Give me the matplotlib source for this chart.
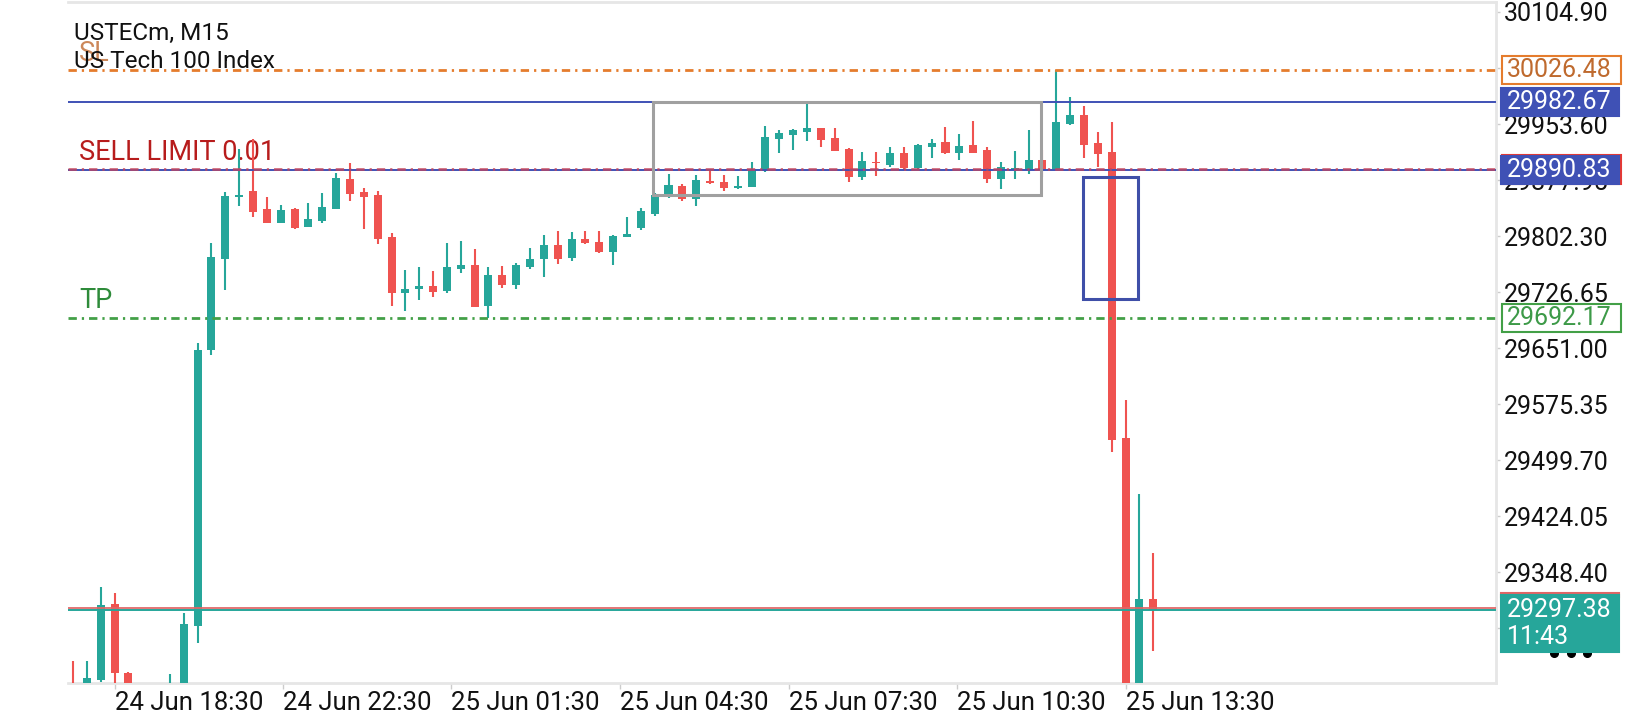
import matplotlib
matplotlib.use("Agg")
import numpy as np
import matplotlib.pyplot as plt
from matplotlib.patches import Rectangle
from matplotlib.lines import Line2D

# ---- data: USTECm M15 candles ----
opens = [29190.0, 29185.0, 29202.6, 29305.2, 29212.4, 29175.0, 29160.0, 29180.0, 29195.0, 29275.5,
         29648.3, 29771.7, 29855.4, 29863.1, 29838.8, 29820.3, 29838.8, 29814.0, 29823.0, 29839.2,
         29878.9, 29862.2, 29857.7, 29800.5, 29725.7, 29730.3, 29735.2, 29728.0, 29757.7, 29763.1,
         29708.2, 29749.6, 29736.1, 29760.8, 29770.8, 29790.2, 29773.0, 29798.3, 29793.8, 29781.1,
         29800.5, 29813.1, 29832.0, 29855.4, 29869.9, 29852.3, 29877.0, 29874.9, 29867.2, 29868.9,
         29890.1, 29933.8, 29938.7, 29942.8, 29948.2, 29934.3, 29919.8, 29881.6, 29902.7, 29898.2,
         29914.8, 29893.8, 29922.9, 29929.7, 29914.8, 29925.2, 29918.5, 29879.3, 29891.5, 29891.5,
         29905.0, 29892.4, 29953.6, 29965.8, 29927.5, 29916.2, 29529.0, 29150.0, 29311.6]
highs = [29228.2, 29228.2, 29327.8, 29319.7, 29214.0, 29190.0, 29185.0, 29210.7, 29292.7, 29657.8,
         29792.9, 29862.2, 29919.4, 29933.3, 29855.0, 29844.2, 29840.1, 29847.3, 29860.8, 29887.0,
         29901.3, 29866.8, 29863.1, 29806.0, 29756.4, 29760.8, 29755.0, 29793.3, 29795.5, 29784.8,
         29760.8, 29761.8, 29766.2, 29785.7, 29803.7, 29809.1, 29807.3, 29809.1, 29809.1, 29803.7,
         29828.4, 29840.1, 29860.4, 29885.7, 29872.6, 29884.7, 29892.4, 29884.7, 29883.8, 29902.7,
         29950.9, 29945.5, 29946.9, 29982.4, 29948.6, 29947.8, 29920.8, 29916.2, 29916.2, 29922.1,
         29922.1, 29926.2, 29933.3, 29949.6, 29940.1, 29957.7, 29922.5, 29902.3, 29917.1, 29945.5,
         29918.5, 30026.5, 29989.7, 29977.9, 29943.2, 29956.7, 29580.8, 29453.8, 29373.7]
lows = [29160.0, 29175.0, 29200.0, 29185.0, 29160.0, 29150.0, 29145.0, 29170.0, 29190.0, 29253.0,
        29641.6, 29729.4, 29843.2, 29828.4, 29819.5, 29819.5, 29812.2, 29814.0, 29820.3, 29839.2,
        29850.0, 29811.8, 29791.9, 29708.2, 29701.4, 29715.9, 29719.5, 29725.7, 29752.7, 29706.4,
        29691.9, 29732.5, 29730.7, 29757.7, 29747.3, 29764.5, 29768.9, 29791.5, 29778.9, 29763.1,
        29800.3, 29810.4, 29829.3, 29853.2, 29849.6, 29843.2, 29873.0, 29863.5, 29866.2, 29868.5,
        29889.4, 29914.8, 29918.5, 29930.6, 29922.9, 29917.1, 29875.7, 29877.9, 29883.4, 29895.9,
        29892.8, 29892.4, 29908.1, 29913.1, 29905.0, 29913.8, 29874.3, 29865.4, 29879.7, 29886.1,
        29881.6, 29891.5, 29952.3, 29908.1, 29895.1, 29510.9, 29120.0, 29130.0, 29242.1]
closes = [29170.0, 29204.8, 29303.9, 29211.6, 29175.0, 29160.0, 29180.0, 29195.0, 29278.2, 29648.3,
          29773.5, 29856.3, 29857.7, 29835.1, 29820.3, 29837.4, 29813.1, 29824.9, 29841.1, 29881.1,
          29858.6, 29855.4, 29798.3, 29725.7, 29730.7, 29735.2, 29727.1, 29760.8, 29763.1, 29706.8,
          29749.6, 29736.1, 29763.1, 29771.2, 29790.2, 29771.2, 29798.3, 29792.5, 29780.3, 29802.7,
          29805.0, 29836.1, 29857.7, 29871.2, 29851.9, 29878.0, 29874.3, 29866.7, 29869.9, 29891.5,
          29935.6, 29941.9, 29945.5, 29948.6, 29932.0, 29917.5, 29882.4, 29904.0, 29900.5, 29914.8,
          29893.8, 29925.2, 29928.3, 29914.8, 29923.9, 29914.8, 29879.3, 29895.1, 29894.8, 29905.0,
          29891.5, 29956.3, 29965.8, 29925.2, 29913.1, 29526.7, 29150.0, 29311.6, 29297.38]

time_labels = ['24 Jun 18:30', '24 Jun 22:30', '25 Jun 01:30', '25 Jun 04:30',
               '25 Jun 07:30', '25 Jun 10:30', '25 Jun 13:30']
time_label_bars = [3, 15.17, 27.33, 39.5, 51.67, 63.83, 76]

price_ticks = [30104.90, 30029.25, 29953.60, 29877.95, 29802.30, 29726.65,
               29651.00, 29575.35, 29499.70, 29424.05, 29348.40, 29272.75]

sl_price = 30026.48
tp_price = 29692.17
sell_limit_price = 29892.4
position_price = 29890.83
level_price = 29982.67
bid_price = 29297.38
ask_price = 29299.9
countdown = '11:43'

# drawn boxes: (bar_left, bar_right, price_low, price_high)
range_box = (41.9, 69.9, 29857.7, 29983.2)
drop_box = (72.9, 76.9, 29717.2, 29882.0)

TEAL = '#26a69a'
RED = '#ef5350'
BLUE = '#3f51b5'
ORANGE = '#e57c2d'
GREEN = '#43a047'
GRID = '#e6e6e6'
FONT = 'Roboto'
FS = 18

plt.rcParams['font.family'] = [FONT, 'DejaVu Sans']

W, H = 1640, 720
fig = plt.figure(figsize=(W / 100, H / 100), dpi=100)
ax = fig.add_axes([68 / W, 1 - 683 / H, (1496 - 68) / W, (683 - 2) / H])
ax.set_xlim(-0.36, 102.75)
ax.set_ylim(29198.5, 30118.4)

o = np.array(opens)
c = np.array(closes)
hi = np.array(highs)
lo = np.array(lows)
bars = np.arange(len(o))
col = np.where(c >= o, TEAL, RED)

ax.vlines(bars, lo, hi, colors=col, lw=1.5, zorder=4)
ax.bar(bars, np.maximum(np.abs(c - o), 1.8), bottom=np.minimum(o, c), width=0.58,
       color=col, linewidth=0, zorder=5)

dashdot = (0, (3, 1.8, 0.8, 1.8))
ax.axhline(sl_price, color=ORANGE, lw=2, ls=dashdot, zorder=6)
ax.axhline(level_price, color=BLUE, lw=1.4, zorder=6)
ax.axhline(position_price, color=BLUE, lw=1.4, zorder=6)
ax.axhline(sell_limit_price, color='#c4455c', lw=2, ls=dashdot, zorder=6, alpha=0.8)
ax.axhline(tp_price, color=GREEN, lw=2, ls=dashdot, zorder=6)
ax.axhline(bid_price, color=TEAL, lw=1.4, zorder=6)
ax.axhline(ask_price, color='#e06666', lw=1.4, zorder=6, alpha=0.9)

for (b0, b1, p0, p1), ec in [(range_box, '#a0a0a0'), (drop_box, '#3f4fa8')]:
    ax.add_patch(Rectangle((b0, p0), b1 - b0, p1 - p0, fill=False, ec=ec, lw=2.2, zorder=7))

# order labels above their lines
for txt, price, tc, a in [('SL', sl_price, '#c0692f', 0.8), ('SELL LIMIT 0.01', sell_limit_price, '#b71c1c', 1),
                          ('TP', tp_price, '#2e8b3a', 1)]:
    ax.annotate(txt, xy=(11 / 1428, price), xycoords=('axes fraction', 'data'),
                xytext=(0, 17), textcoords='offset pixels', ha='left', va='center',
                fontsize=19.5, color=tc, alpha=a, zorder=2)

fig.text(74 / W, 1 - 33 / H, 'USTECm, M15', fontsize=17.5, va='center', ha='left', color='#111111', zorder=8)
fig.text(74 / W, 1 - 62 / H, 'US Tech 100 Index', fontsize=17.5, va='center', ha='left', color='#111111', zorder=8)

# axes frame
ax.spines['left'].set_visible(False)
for s in ['top', 'bottom', 'right']:
    ax.spines[s].set_color(GRID)
    ax.spines[s].set_linewidth(2)

ax.yaxis.tick_right()
ax.set_yticks(price_ticks)
ax.set_yticklabels([f'{v:.2f}' for v in price_ticks])
ax.tick_params(axis='y', length=3, width=1, color='#cccccc', pad=3, labelsize=FS, labelcolor='#111111')
ax.set_xticks(time_label_bars)
ax.set_xticklabels(time_labels, ha='left')
ax.tick_params(axis='x', length=4, width=1, color='#cccccc', pad=2, labelsize=18.5, labelcolor='#111111')


# price tags on the right scale
def py(price):
    # pixel y (from bottom) of a price
    return ax.transData.transform((0, price))[1]


def tag(price, text, fc, ec, tc, x0=1501, x1=1619, h=28, top=None, z=2):
    yc = py(price)
    y0 = yc - h / 2 if top is None else H - top - h
    fig.add_artist(Rectangle((x0 / W, y0 / H), (x1 - x0) / W, h / H, transform=fig.transFigure,
                             fc=fc, ec=ec, lw=1.5, zorder=z))
    if text:
        fig.text(1507 / W, (y0 + h / 2) / H, text, fontsize=FS, color=tc, ha='left', va='center',
                 zorder=z + 0.5, linespacing=1.15)


tag(sl_price, f'{sl_price:.2f}', 'white', ORANGE, '#bf6a2e', x0=1502, x1=1621)
tag(level_price, f'{level_price:.2f}', BLUE, BLUE, 'white')
tag(sell_limit_price, '', 'white', '#e53935', 'white', x0=1502, x1=1621, h=29)
tag(position_price, f'{position_price:.2f}', BLUE, BLUE, 'white', h=28, z=3)
tag(tp_price, f'{tp_price:.2f}', 'white', GREEN, '#3d9a48', x0=1502, x1=1621)

fig.add_artist(Line2D([1554 / W, 1571 / W, 1587 / W], [1 - 653 / H] * 3, transform=fig.transFigure,
                      marker='o', ls='', ms=5.5, color='black', zorder=1))
tag(ask_price, '', '#e06666', '#e06666', 'white', h=4, top=593, z=4)
tag(bid_price, f'{bid_price:.2f}\n{countdown}', TEAL, TEAL, 'white', h=57, top=595, z=5)

fig.savefig('out.png', dpi=100, facecolor='white')
